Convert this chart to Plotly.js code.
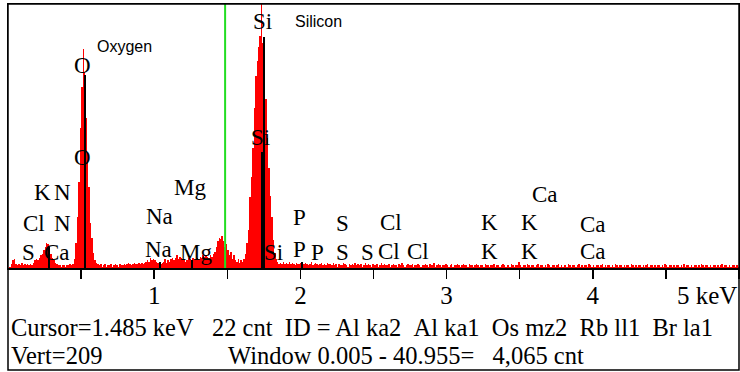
<!DOCTYPE html>
<html>
<head>
<meta charset="utf-8">
<script src="https://cdn.plot.ly/plotly-3.0.1.min.js"></script>
<style>
html,body{margin:0;padding:0;background:#fff;}
#chart{width:740px;height:372px;}
</style>
</head>
<body>
<div id="chart"></div>
<script>
// ---- data ----
const channelStartKeV = 0.0;
const channelWidthKeV = 0.01;
// counts per 0.01 keV channel, 0.00 .. 5.00 keV
const counts = [
  0,1,3,6,7,3,2,3,2,4, 2,3,2,3,2,3,2,4,6,7,
  6,8,10,11,14,17,20,19,16,11, 8,6,4,3,2,2,1,2,2,1,
  2,2,3,2,3,7,20,40,68,111, 143,173,155,119,91,64,36,24,12,6,
  4,3,2,3,1,2,3,1,2,2, 3,1,2,3,2,1,3,2,2,3,
  2,3,4,3,2,3,4,3,3,4, 3,4,3,4,5,6,5,8,6,7,
  6,5,4,5,3,4,5,7,4,6, 5,7,8,6,8,10,7,9,8,6,
  7,5,6,8,7,6,8,7,6,8, 7,9,8,10,9,10,9,8,10,9,
  11,13,17,21,24,23,25,21,17,19, 14,10,13,7,10,6,5,7,4,6,
  5,7,11,20,30,56,72,95,127,152, 164,175,184,240,178,147,134,103,79,57,
  40,22,12,7,5,3,4,3,5,3, 4,3,5,3,4,3,2,4,3,3,
  4,2,3,4,3,2,3,5,2,3, 4,3,2,3,4,2,3,2,4,3,
  3,2,4,2,3,1,3,2,2,4, 3,2,1,3,2,3,2,4,2,3,
  2,3,1,2,4,2,3,2,1,3, 2,2,3,1,2,4,2,3,2,2,
  3,1,2,3,2,2,1,3,2,4, 2,1,2,3,2,2,3,1,2,2,
  3,2,1,2,2,3,2,1,3,2, 2,4,1,2,3,2,1,2,2,3,
  2,1,2,3,1,2,2,3,2,1, 2,3,2,2,1,3,2,2,1,2,
  3,2,1,2,2,1,3,2,2,1, 2,2,3,1,2,2,1,2,3,2,
  1,2,2,1,3,2,1,2,2,5, 2,1,2,2,1,3,2,1,2,2,
  1,2,3,1,2,2,1,2,1,3, 2,1,2,2,1,2,3,1,2,1,
  2,2,1,3,2,1,2,2,1,2, 3,1,2,1,2,2,1,3,2,1,
  2,1,2,2,1,2,3,1,2,1, 2,2,1,2,1,3,2,1,2,2,
  1,2,1,2,2,1,3,2,1,2, 1,2,2,1,2,1,2,3,1,2,
  2,1,2,1,2,2,1,2,1,3, 2,1,2,2,1,2,1,2,2,1,
  2,1,3,1,2,2,1,2,1,2, 2,1,2,1,3,2,1,2,2,1,
  2,1,2,2,1,2,1,2,3,1, 2,2,1,2,1,2,2,1,2,1
];
// KLM line markers (keV, height in counts)
const markerKeV    = [0.280, 0.526, 1.039, 1.256, 1.751, 2.010];
const markerHeight = [17, 153, 5, 6, 183, 5];
const markerKeVMajor    = [1.740];
const markerHeightMajor = [92];
// element labels
const labelText = ["Si","Si","Si","O","O","K","N","Cl","N","S","Ca","Mg","Na","Na","Mg",
                   "P","P","P","S","S","S","Cl","Cl","Cl","K","K","K","K","Ca","Ca","Ca"];
const labelKeV  = [1.740,1.729,1.819,0.508,0.508,0.239,0.376,0.178,0.376,0.137,0.335,1.244,1.036,1.026,1.285,
                   1.997,1.997,2.120,2.291,2.291,2.462,2.619,2.605,2.803,3.296,3.296,3.569,3.569,3.672,4.000,4.000];
const labelCnt  = [195.5,103.7,11.9,160.7,87.1,59.4,59.4,35.6,35.6,11.9,11.9,64.1,40.4,15.0,11.9,
                   39.6,14.3,11.9,35.6,11.9,11.9,36.4,12.7,12.7,36.4,12.7,36.4,12.7,57.8,34.8,12.7];
const nameText = ["Oxygen","Silicon"];
const nameKeV  = [0.797, 2.126];
const nameCnt  = [175, 194.8];
// axis
const tickKeV  = [0.5,1,1.5,2,2.5,3,3.5,4,4.5,5];
const tickText = ["","1","","2","","3","","4","",""];
const xMaxKeV = 5.0;
const vertScale = 209;
// readouts
const cursorKeV = 1.485;
const cursorCnt = 22;
const cursorID = ["Al ka2","Al ka1","Os mz2","Rb ll1","Br la1"];
const windowLo = 0.005, windowHi = 40.955, windowTotal = "4,065";

// ---- build ----
const energies = counts.map((_, i) => channelStartKeV + channelWidthKeV * (i + 0.5));
const SERIF = "Liberation Serif, Times New Roman, serif";
const SANS = "Liberation Sans, Arial, sans-serif";
const NB = "\u00a0";

const traces = [
  {type:"bar", x:energies, y:counts, width:channelWidthKeV,
   marker:{color:"#ff0000", line:{width:0}}, hoverinfo:"skip"},
  {type:"bar", x:markerKeV, y:markerHeight, width:0.012,
   marker:{color:"#000000", line:{width:0}}, hoverinfo:"skip"},
  {type:"bar", x:markerKeVMajor, y:markerHeightMajor, width:0.022,
   marker:{color:"#000000", line:{width:0}}, hoverinfo:"skip"}
];

const pyOf = Y => (268 - Y) / 264; // helper for paper coordinates of info rows

const annotations = [];
labelText.forEach((t, i) => annotations.push({
  x: labelKeV[i], y: labelCnt[i], xref:"x", yref:"y", text:t, showarrow:false,
  xanchor:"center", yanchor:"middle", font:{family:SERIF, size:23, color:"#000"}
}));
nameText.forEach((t, i) => annotations.push({
  x: nameKeV[i], y: nameCnt[i], xref:"x", yref:"y", text:t, showarrow:false,
  xanchor:"center", yanchor:"middle", font:{family:SANS, size:16, color:"#000"}
}));
annotations.push({
  x:1, y:pyOf(295), xref:"paper", yref:"paper", text:xMaxKeV.toFixed(0) + " keV", showarrow:false,
  xanchor:"right", yanchor:"middle", font:{family:SERIF, size:25, color:"#000"}
});
const line1 = "Cursor=" + cursorKeV.toFixed(3) + " keV" + NB+NB+NB + cursorCnt + " cnt" + NB+NB +
  "ID = " + cursorID.join(NB+NB);
const line2 = "Vert=" + vertScale;
const line2b = "Window " + windowLo.toFixed(3) + " - " + windowHi.toFixed(3) + "=" + NB+NB+NB + windowTotal + " cnt";
annotations.push({x:0, y:pyOf(327), xref:"paper", yref:"paper", text:line1, showarrow:false,
  xanchor:"left", yanchor:"middle", xshift:1, font:{family:SERIF, size:24.5, color:"#000"}});
annotations.push({x:0, y:pyOf(355), xref:"paper", yref:"paper", text:line2, showarrow:false,
  xanchor:"left", yanchor:"middle", xshift:1, font:{family:SERIF, size:24.5, color:"#000"}});
annotations.push({x:0.298, y:pyOf(355), xref:"paper", yref:"paper", text:line2b, showarrow:false,
  xanchor:"left", yanchor:"middle", font:{family:SERIF, size:24.5, color:"#000"}});

const shapes = [
  {type:"line", xref:"x", yref:"paper", x0:cursorKeV, x1:cursorKeV, y0:0, y1:1,
   line:{color:"#22dd22", width:2}, layer:"above"},
  {type:"rect", xref:"paper", yref:"paper", x0:0, x1:1, y0:pyOf(370), y1:1,
   line:{color:"#000", width:1.5}, fillcolor:"rgba(0,0,0,0)", layer:"above"}
];

const layout = {
  width:740, height:372,
  margin:{l:8, r:1, t:4, b:104, pad:0},
  paper_bgcolor:"#fff", plot_bgcolor:"#fff",
  showlegend:false, barmode:"overlay", bargap:0,
  xaxis:{range:[channelStartKeV, xMaxKeV], tickvals:tickKeV, ticktext:tickText,
    ticks:"outside", ticklen:9, tickwidth:1.5, tickcolor:"#000", ticklabelstandoff:-5,
    showline:true, linecolor:"#000", linewidth:1.5, mirror:true,
    showgrid:false, zeroline:false,
    tickfont:{family:SERIF, size:25, color:"#000"}},
  yaxis:{range:[0, vertScale], showticklabels:false, ticks:"", showgrid:false, zeroline:false,
    showline:true, linecolor:"#000", linewidth:1.5, mirror:true},
  annotations, shapes
};

Plotly.newPlot("chart", traces, layout, {displayModeBar:false, staticPlot:true});
</script>
</body>
</html>
